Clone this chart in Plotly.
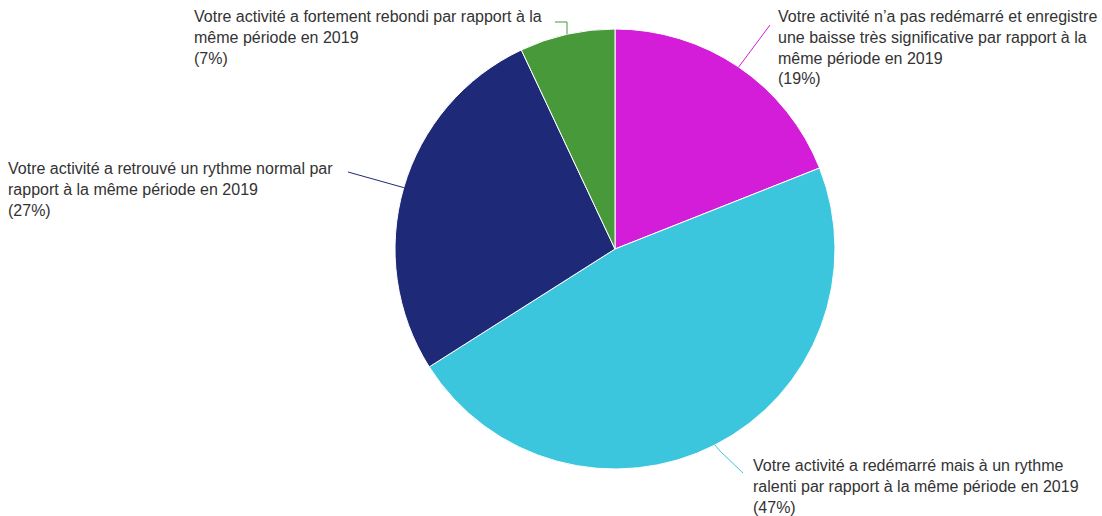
import math
import plotly.graph_objects as go

# ---- data ----
labels = [
    "Votre activité n’a pas redémarré et enregistre<br>une baisse très significative par rapport à la<br>même période en 2019",
    "Votre activité a redémarré mais à un rythme<br>ralenti par rapport à la même période en 2019",
    "Votre activité a retrouvé un rythme normal par<br>rapport à la même période en 2019",
    "Votre activité a fortement rebondi par rapport à la<br>même période en 2019",
]
values = [19, 47, 27, 7]
colors = ["#d31dd8", "#3bc6de", "#1e2a78", "#47993a"]

# ---- layout geometry (pixels) ----
W, H = 1102, 516
cx, cy, R = 615, 249, 220

def px(x):
    return x / W

def py(y):
    return 1 - y / H

fig = go.Figure(go.Pie(
    labels=[l.replace("<br>", " ") for l in labels],
    values=values,
    sort=False,
    direction="clockwise",
    rotation=0,
    marker=dict(colors=colors, line=dict(color="white", width=1)),
    textinfo="none",
    hoverinfo="label+percent",
    domain=dict(x=[px(cx - R), px(cx + R)], y=[py(cy + R), py(cy - R)]),
    showlegend=False,
))

# label anchors (pixel): text box top-left, connector path after edge point
label_pos = [
    dict(x=776, y=6, path=[(770, 25)]),
    dict(x=751, y=455, path=[(720, 451), (743, 473)]),
    dict(x=6, y=158, path=[(348, 172)]),
    dict(x=192, y=6, path=[(567, 22), (555, 22)]),
]

total = sum(values)
cum = 0
annotations = []
shapes = []
for lab, v, col, lp in zip(labels, values, colors, label_pos):
    mid = (cum + v / 2) / total * 2 * math.pi
    cum += v
    ex = cx + R * math.sin(mid)
    ey = cy - R * math.cos(mid)
    pts = [(ex, ey)] + lp["path"]
    path = "M " + " L ".join(f"{px(a)},{py(b)}" for a, b in pts)
    shapes.append(dict(type="path", xref="paper", yref="paper", path=path,
                       line=dict(color=col, width=1)))
    pct = round(v / total * 100)
    annotations.append(dict(
        x=px(lp["x"]), y=py(lp["y"]), xref="paper", yref="paper",
        xanchor="left", yanchor="top", align="left", showarrow=False,
        text=f"{lab}<br>({pct}%)",
        font=dict(family="Liberation Sans, Arial, sans-serif", size=16, color="#333333"),
    ))

fig.update_layout(
    width=W, height=H,
    margin=dict(l=0, r=0, t=0, b=0),
    paper_bgcolor="white",
    plot_bgcolor="white",
    annotations=annotations,
    shapes=shapes,
)

fig.write_html("out.html", config={"displayModeBar": False},
               post_script="document.body.style.margin='0';")
